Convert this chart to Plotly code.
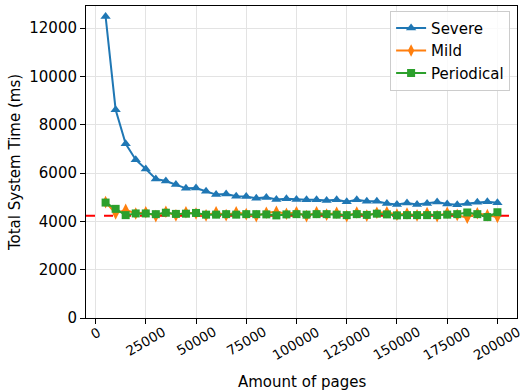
import plotly.graph_objects as go

# Page counts tested (5k .. 200k in 5k steps)
pages = list(range(5000, 200001, 5000))

severe = [12490, 8625, 7217, 6555, 6170, 5760, 5675, 5530, 5370, 5380,
          5245, 5110, 5130, 5040, 5035, 4955, 4995, 4910, 4940, 4910,
          4900, 4900, 4870, 4900, 4815, 4900, 4830, 4830, 4745, 4705,
          4760, 4705, 4745, 4800, 4720, 4690, 4745, 4790, 4815, 4775]

mild = [4800, 4330, 4480, 4330, 4380, 4220, 4400, 4250, 4380, 4330,
        4250, 4380, 4260, 4380, 4300, 4220, 4360, 4400, 4320, 4380,
        4220, 4380, 4280, 4360, 4220, 4370, 4240, 4360, 4380, 4280,
        4330, 4250, 4350, 4220, 4360, 4270, 4150, 4340, 4260, 4180]

periodical = [4780, 4520, 4260, 4330, 4330, 4300, 4360, 4310, 4320, 4350,
              4280, 4280, 4300, 4280, 4300, 4300, 4290, 4250, 4290, 4300,
              4280, 4300, 4300, 4280, 4260, 4300, 4270, 4320, 4290, 4250,
              4260, 4260, 4260, 4260, 4280, 4300, 4370, 4300, 4180, 4380]

# Reference level drawn as a dashed horizontal line
baseline = 4230

x_ticks = list(range(0, 200001, 25000))
y_ticks = list(range(0, 12001, 2000))

FONT = "DejaVu Sans"
FS = 15

fig = go.Figure()
fig.add_trace(go.Scatter(x=pages, y=severe, mode="lines+markers", name="Severe",
                         line=dict(color="#1f77b4", width=2),
                         marker=dict(symbol="triangle-up", size=9, color="#1f77b4")))
fig.add_trace(go.Scatter(x=pages, y=mild, mode="lines+markers", name="Mild",
                         line=dict(color="#ff7f0e", width=2),
                         marker=dict(symbol="diamond-tall", size=9, color="#ff7f0e")))
fig.add_trace(go.Scatter(x=pages, y=periodical, mode="lines+markers", name="Periodical",
                         line=dict(color="#2ca02c", width=2),
                         marker=dict(symbol="square", size=8, color="#2ca02c")))

fig.add_shape(type="line", xref="paper", yref="y", x0=0, x1=1, y0=baseline, y1=baseline,
              line=dict(color="#ff0000", width=2, dash="dash"), layer="below")

axis_common = dict(showline=True, linecolor="black", linewidth=1, mirror=True,
                   ticks="outside", ticklen=5, tickcolor="black", tickwidth=1,
                   showgrid=True, gridcolor="#e3e3e3", gridwidth=1, zeroline=False,
                   tickfont=dict(family=FONT, size=FS, color="black"))

# x tick labels are rotated 30 degrees and centred under each tick
fig.update_xaxes(range=[-4750, 209750], tickvals=x_ticks, showticklabels=False,
                 **axis_common)
for v in x_ticks:
    fig.add_annotation(x=v, xref="x", y=0, yref="paper", text=str(v), textangle=-30,
                       showarrow=False, xanchor="center", yanchor="top", yshift=-4,
                       borderpad=0, font=dict(family=FONT, size=13.5, color="black"))
fig.add_annotation(x=0.5, xref="paper", y=0, yref="paper", text="Amount of pages",
                   showarrow=False, xanchor="center", yanchor="top", yshift=-53,
                   font=dict(family=FONT, size=FS, color="black"))

fig.update_yaxes(range=[0, 12920], tickvals=y_ticks, ticktext=[str(v) for v in y_ticks],
                 title=dict(text="Total System Time (ms)", standoff=5,
                            font=dict(family=FONT, size=FS, color="black")),
                 **axis_common)

fig.update_layout(
    width=523, height=392,
    margin=dict(l=86, r=6, t=6, b=74, autoexpand=False),
    paper_bgcolor="white", plot_bgcolor="white",
    font=dict(family=FONT, size=FS, color="black"),
    legend=dict(x=0.984, y=0.985, xanchor="right", yanchor="top",
                bgcolor="rgba(255,255,255,0.8)", bordercolor="#cccccc", borderwidth=1,
                font=dict(family=FONT, size=FS, color="black"), itemwidth=30,
                tracegroupgap=0),
    showlegend=True,
)

fig.write_html("out.html")
